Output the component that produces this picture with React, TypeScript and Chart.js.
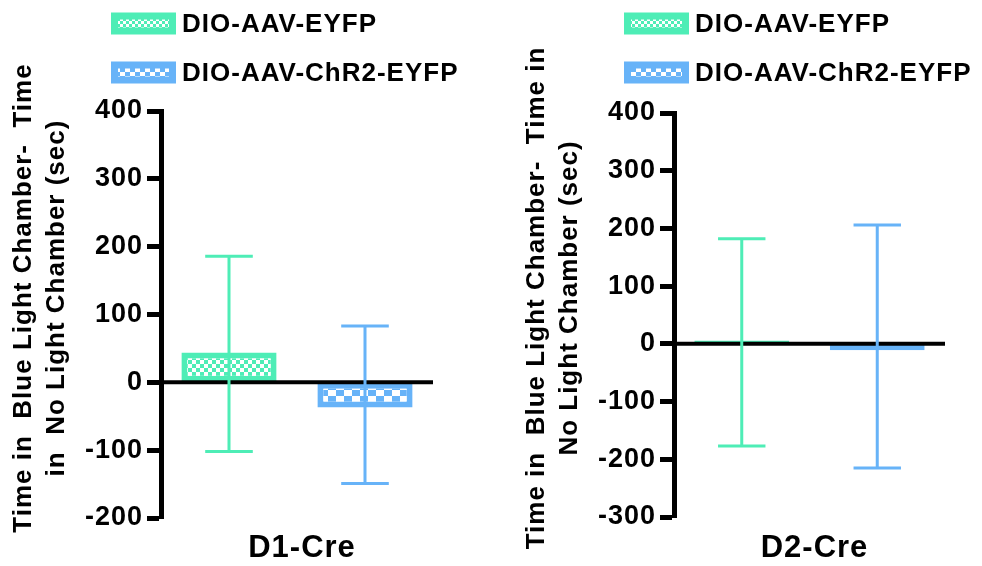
import React, { useEffect, useRef } from 'react';
import { Chart, registerables } from 'chart.js';

Chart.register(...registerables);

// ---- data ----
const seriesNames = ['DIO-AAV-EYFP', 'DIO-AAV-ChR2-EYFP'];
const seriesColors = ['#4EEDB6', '#67B3F8'];

const d1Group = 'D1-Cre';
const d1Means = [44, -37];
const d1Upper = [186, 83];
const d1Lower = [-102, -149];
const d1Ticks = [-200, -100, 0, 100, 200, 300, 400];
const d1Title = ['Time in  Blue Light Chamber-  Time', 'in  No Light Chamber (sec)'];

const d2Group = 'D2-Cre';
const d2Means = [6, -11];
const d2Upper = [182, 206];
const d2Lower = [-177, -215];
const d2Ticks = [-300, -200, -100, 0, 100, 200, 300, 400];
const d2Title = ['Time in  Blue Light Chamber-  Time in', 'No Light Chamber (sec)'];

const FONT = '"Liberation Sans", Arial, Helvetica, sans-serif';

function makePattern(color: string, cw: number, ch: number) {
  const c = document.createElement('canvas');
  c.width = cw * 2;
  c.height = ch * 2;
  const g = c.getContext('2d')!;
  g.fillStyle = color;
  g.fillRect(0, 0, c.width, c.height);
  g.fillStyle = '#ffffff';
  g.fillRect(0, 0, cw, ch);
  g.fillRect(cw, ch, cw, ch);
  const p = document.createElement('canvas').getContext('2d')!.createPattern(c, 'repeat');
  return p as CanvasPattern;
}

type PanelProps = {
  group: string;
  means: number[];
  upper: number[];
  lower: number[];
  ticks: number[];
  title: string[];
  padTop: number;
  padBottom: number;
  padRight: number;
  axisWidth: number;
};

function Panel(props: PanelProps) {
  const ref = useRef<HTMLCanvasElement | null>(null);
  useEffect(() => {
    const canvas = ref.current;
    if (!canvas) return;
    const barPatterns = [makePattern(seriesColors[0], 4, 4), makePattern(seriesColors[1], 8, 6)];
    const swatchPatterns = [makePattern(seriesColors[0], 3, 3), makePattern(seriesColors[1], 5, 4)];
    const { ticks } = props;

    const decor = {
      id: 'panelDecor',
      beforeDraw(chart: any) {
        (chart.ctx as any).letterSpacing = '1px';
      },
      afterDatasetsDraw(chart: any) {
        const { ctx, chartArea: a } = chart;
        const y = chart.scales.y;
        const y0 = y.getPixelForValue(0);
        ctx.save();
        ctx.strokeStyle = '#000';
        ctx.lineWidth = 4;
        ctx.beginPath();
        ctx.moveTo(a.left, y0);
        ctx.lineTo(a.right, y0);
        ctx.stroke();
        chart.data.datasets.forEach((ds: any, i: number) => {
          const meta = chart.getDatasetMeta(i);
          meta.data.forEach((bar: any, j: number) => {
            const x = bar.x;
            const cap = bar.width * 0.5;
            const yHi = y.getPixelForValue(ds.errUpper[j]);
            const yLo = y.getPixelForValue(ds.errLower[j]);
            ctx.strokeStyle = ds.borderColor;
            ctx.lineWidth = 3;
            ctx.beginPath();
            ctx.moveTo(x, yHi);
            ctx.lineTo(x, yLo);
            ctx.moveTo(x - cap / 2, yHi);
            ctx.lineTo(x + cap / 2, yHi);
            ctx.moveTo(x - cap / 2, yLo);
            ctx.lineTo(x + cap / 2, yLo);
            ctx.stroke();
          });
        });
        ctx.restore();
      },
      afterDraw(chart: any) {
        const { ctx, chartArea: a } = chart;
        ctx.save();
        (ctx as any).letterSpacing = '1px';
        // legend
        const lx = a.left - 50;
        const rows = [23.5, 72.5];
        seriesNames.forEach((name, i) => {
          const cy = rows[i];
          ctx.fillStyle = seriesColors[i];
          ctx.fillRect(lx, cy - 11, 65, 22);
          ctx.fillStyle = swatchPatterns[i];
          ctx.fillRect(lx + 7, cy - 4, 51, 8);
          ctx.fillStyle = '#000';
          ctx.font = `bold 26px ${FONT}`;
          ctx.textAlign = 'left';
          ctx.textBaseline = 'middle';
          ctx.fillText(name, lx + 71, cy + 1);
        });
        // y title
        ctx.font = `bold 26px ${FONT}`;
        ctx.textAlign = 'center';
        ctx.textBaseline = 'middle';
        ctx.fillStyle = '#000';
        const xs = [a.left - 137, a.left - 104];
        props.title.forEach((t, k) => {
          ctx.save();
          ctx.translate(xs[k], 298);
          ctx.rotate(-Math.PI / 2);
          ctx.fillText(t, 0, 0);
          ctx.restore();
        });
        // x title
        ctx.font = `bold 31px ${FONT}`;
        ctx.textAlign = 'center';
        ctx.textBaseline = 'middle';
        ctx.fillText(props.group, (a.left + a.right) / 2 + 5, 548);
        ctx.restore();
      },
    };

    const chart = new Chart(canvas, {
      type: 'bar',
      data: {
        labels: [props.group],
        datasets: seriesNames.map((name, i) => ({
          label: name,
          data: [props.means[i]],
          errUpper: [props.upper[i]],
          errLower: [props.lower[i]],
          backgroundColor: barPatterns[i],
          borderColor: seriesColors[i],
          borderWidth: 6,
          borderSkipped: false,
          categoryPercentage: 1,
          barPercentage: 0.7,
        })) as any,
      },
      options: {
        responsive: false,
        animation: false,
        events: [],
        layout: { padding: { top: props.padTop, bottom: props.padBottom, left: 0, right: props.padRight } },
        plugins: { legend: { display: false }, tooltip: { enabled: false }, title: { display: false } },
        scales: {
          x: { display: false, offset: true, grid: { display: false } },
          y: {
            min: ticks[0],
            max: ticks[ticks.length - 1],
            ticks: {
              stepSize: ticks[1] - ticks[0],
              color: '#000',
              padding: 4,
              font: { family: FONT, size: 27, weight: 'bold' },
            },
            grid: {
              drawOnChartArea: false,
              drawTicks: true,
              tickLength: 14,
              tickWidth: 5,
              tickColor: '#000',
              color: '#000',
            },
            border: { display: true, color: '#000', width: 5 },
            afterFit: (s: any) => {
              s.width = props.axisWidth;
            },
          },
        },
      } as any,
      plugins: [decor],
    });
    return () => chart.destroy();
  }, []);
  return <canvas ref={ref} width={491} height={566} style={{ display: 'block', width: 491, height: 566 }} />;
}

export default function App() {
  return (
    <div style={{ position: 'absolute', left: 0, top: 0, width: 982, height: 566, display: 'flex', background: '#fff' }}>
      <Panel
        group={d1Group}
        means={d1Means}
        upper={d1Upper}
        lower={d1Lower}
        ticks={d1Ticks}
        title={d1Title}
        padTop={111}
        padBottom={48}
        padRight={58}
        axisWidth={161}
      />
      <Panel
        group={d2Group}
        means={d2Means}
        upper={d2Upper}
        lower={d2Lower}
        ticks={d2Ticks}
        title={d2Title}
        padTop={113}
        padBottom={49}
        padRight={37}
        axisWidth={183}
      />
    </div>
  );
}
